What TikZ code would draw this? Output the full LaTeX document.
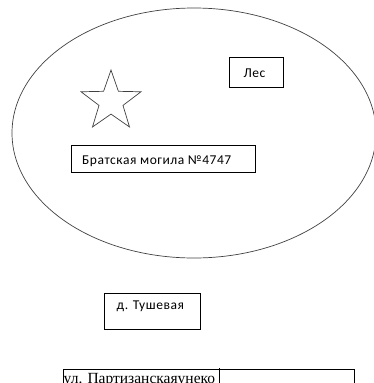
\documentclass[tikz,border=0pt]{standalone}
\usepackage{fontspec}
\setmainfont{Carlito}
\newfontfamily\labelfont[LetterSpace=4]{Carlito}
\newfontfamily\serifcyr{Liberation Serif}
\usetikzlibrary{shapes.geometric}
\begin{document}
\begin{tikzpicture}[x=1pt,y=-1pt,
  boxstyle/.style={draw=black,line width=0.8pt,inner sep=0pt,anchor=north west},
  lbl/.style={font=\labelfont\fontsize{13.5}{15}\selectfont,anchor=base west,inner sep=0pt}]
\useasboundingbox (0,0) rectangle (374,383);
\begin{scope}
\clip (0,0) rectangle (374,383);
% forest ellipse
\node[draw=black!75,line width=0.7pt,ellipse,minimum width=364pt,minimum height=250pt,inner sep=0pt] (forest) at (194,133) {};
% star
\node[draw=black!75,line width=0.7pt,star,star points=5,star point ratio=2.5,minimum size=63pt,inner sep=0pt] (monument) at (111,101.5) {};
% Лес
\node[boxstyle,minimum width=54pt,minimum height=30pt] (les) at (229,57) {};
\node[lbl] (lestxt) at (243.5,77.5) {Лес};
% Братская могила
\node[boxstyle,minimum width=184pt,minimum height=27pt] (grave) at (71,145) {};
\node[lbl] (gravetxt) at (82,164) {Братская могила №4747};
% д. Тушевая
\node[boxstyle,minimum width=96pt,minimum height=36pt] (village) at (104,293) {};
\node[lbl] (villagetxt) at (116.5,309.5) {д. Тушевая};
% street
\node[boxstyle,minimum width=291pt,minimum height=30pt] (street) at (63,369) {};
\node[anchor=north west,inner sep=0pt,font=\serifcyr\fontsize{15.5}{18}\selectfont] (streettxt) at (63.5,373) {ул. Партизанскаяунеко};
\coordinate (cura) at (219,368);
\coordinate (curb) at (219,390);
\draw[line width=0.8pt] (cura) -- (curb);
\end{scope}
\end{tikzpicture}
\end{document}
